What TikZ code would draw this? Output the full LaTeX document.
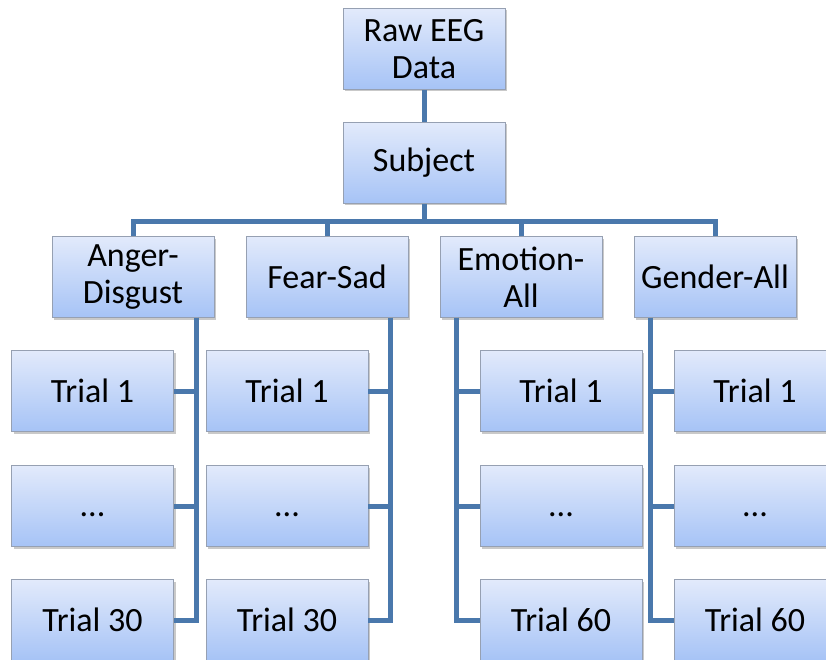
\documentclass[tikz,border=0pt]{standalone}
\usepackage{fontspec}
\setmainfont{Carlito}
\usetikzlibrary{shadows}
\definecolor{conn}{RGB}{74,120,172}
\definecolor{boxtop}{RGB}{226,234,251}
\definecolor{boxbot}{RGB}{166,195,246}
\definecolor{boxedge}{RGB}{150,160,178}
\tikzset{
  box/.style={rectangle, draw=boxedge, line width=0.8pt, top color=boxtop, bottom color=boxbot,
    minimum width=162pt, minimum height=81pt, align=center, inner sep=2pt,
    font=\fontsize{34}{37}\selectfont,
    drop shadow={shadow xshift=2pt, shadow yshift=-2pt, opacity=0.35, fill=black!60}},
  link/.style={draw=conn, line width=5pt},
}
\begin{document}
\begin{tikzpicture}[x=1pt,y=-1pt]
\useasboundingbox (0,0) rectangle (826,660);
\clip (0,0) rectangle (826,660);
\fill[white] (0,0) rectangle (826,660);
\node[box] (raw) at (424,49) {Raw EEG\\Data};
\node[box] (subj) at (424,163) {Subject};
\node[box] (ad) at (133,277) {Anger-\\Disgust};
\node[box] (fs) at (327,277) {Fear-Sad};
\node[box] (ea) at (521,277) {Emotion-\\All};
\node[box] (ga) at (715,277) {Gender-All};
% trials
\node[box] (a1) at (92.5,391) {Trial 1};
\node[box] (a2) at (92.5,506) {\vphantom{T}...};
\node[box] (a3) at (92.5,620) {Trial 30};
\node[box] (b1) at (287,391) {Trial 1};
\node[box] (b2) at (287,506) {\vphantom{T}...};
\node[box] (b3) at (287,620) {Trial 30};
\node[box] (c1) at (561,391) {Trial 1};
\node[box] (c2) at (561,506) {\vphantom{T}...};
\node[box] (c3) at (561,620) {Trial 60};
\node[box] (d1) at (755,391) {Trial 1};
\node[box] (d2) at (755,506) {\vphantom{T}...};
\node[box] (d3) at (755,620) {Trial 60};
% links
\path[link] (raw.south) -- (subj.north);
\coordinate (bus) at ([yshift=-18pt]subj.south);
\path[link] (subj.south) -- (bus);
\foreach \n in {ad,fs,ea,ga}{
  \path[link] (bus) -| (\n.north);
}
\foreach \p/\c in {ad/a,fs/b}{
  \foreach \i in {1,2,3}{
    \path[link] ([xshift=-18pt]\p.south east) |- (\c\i.east);
  }
}
\foreach \p/\c in {ea/c,ga/d}{
  \foreach \i in {1,2,3}{
    \path[link] ([xshift=17pt]\p.south west) |- (\c\i.west);
  }
}
\end{tikzpicture}
\end{document}
